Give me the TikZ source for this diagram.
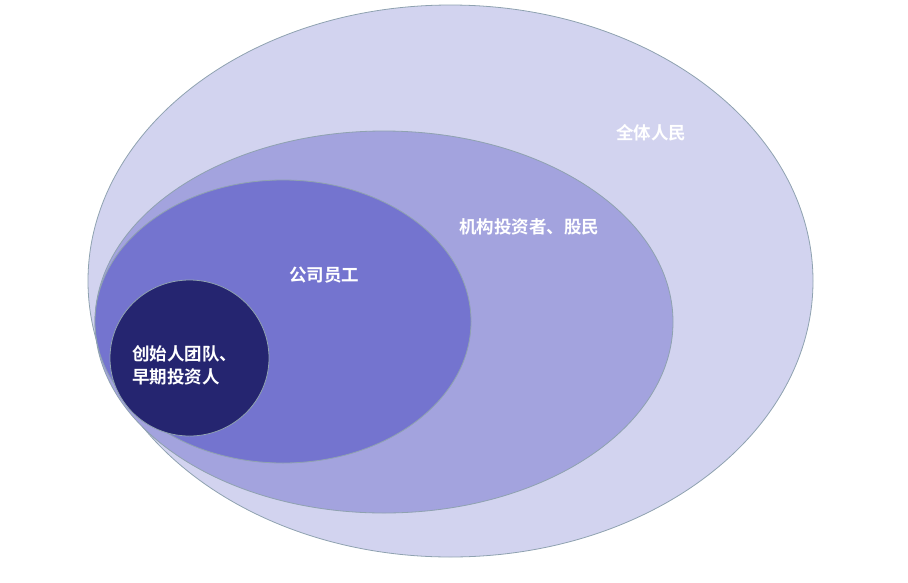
\documentclass[tikz,border=0pt]{standalone}
\usepackage{fontspec}
\newfontfamily\cjk{Noto Sans CJK SC}[BoldFont={Noto Sans CJK SC Bold}]
\definecolor{c1}{HTML}{D2D3EF}
\definecolor{c2}{HTML}{A3A3DE}
\definecolor{c3}{HTML}{7474CF}
\definecolor{c4}{HTML}{252570}
\definecolor{edge}{HTML}{8FA2B0}
\begin{document}
\begin{tikzpicture}[x=1pt,y=-1pt,
  ell/.style={draw=edge,line width=0.8pt},
  lbl/.style={text=white,font=\cjk\bfseries\fontsize{17.5}{23}\selectfont,inner sep=0pt}]
\useasboundingbox (0,0) rectangle (908,582);
\fill[c1,ell] (450.5,281) ellipse [x radius=362.5,y radius=276];
\fill[c2,ell] (384,322) ellipse [x radius=289,y radius=191];
\fill[c3,ell] (283,321.5) ellipse [x radius=188,y radius=141.5];
\fill[c4,ell] (189.5,358) ellipse [x radius=79.5,y radius=78];
\node[lbl] (t1) at (651,133) {全体人民};
\node[lbl] (t2) at (529,227) {机构投资者、股民};
\node[lbl] (t3) at (324,275) {公司员工};
\node[lbl,anchor=west,align=left] (t4) at (132,365.5) {创始人团队、\\早期投资人};
\end{tikzpicture}
\end{document}
